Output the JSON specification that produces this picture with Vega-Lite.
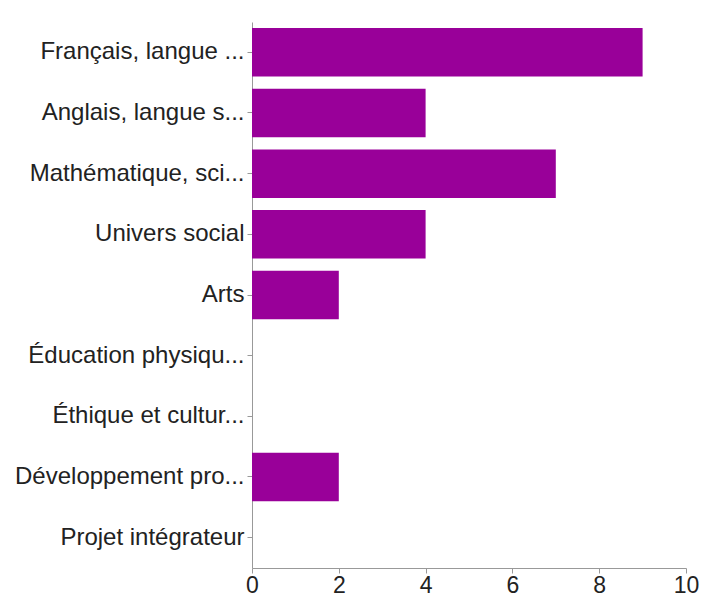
{
  "$schema": "https://vega.github.io/schema/vega-lite/v6.json",
  "autosize": {"type": "none"},
  "padding": {"left": 252, "top": 22, "right": 16, "bottom": 30},
  "width": 434,
  "height": 546,
  "background": "white",
  "data": {
    "values": [
      {"matiere": "Français, langue ...", "n": 9},
      {"matiere": "Anglais, langue s...", "n": 4},
      {"matiere": "Mathématique, sci...", "n": 7},
      {"matiere": "Univers social", "n": 4},
      {"matiere": "Arts", "n": 2},
      {"matiere": "Éducation physiqu...", "n": 0},
      {"matiere": "Éthique et cultur...", "n": 0},
      {"matiere": "Développement pro...", "n": 2},
      {"matiere": "Projet intégrateur", "n": 0}
    ]
  },
  "mark": {"type": "bar", "color": "#990099"},
  "encoding": {
    "y": {
      "field": "matiere",
      "type": "nominal",
      "sort": null,
      "scale": {"paddingInner": 0.2, "paddingOuter": 0.1},
      "axis": {
        "title": null,
        "labelFont": "Liberation Sans",
        "labelFontSize": 24,
        "labelColor": "#222222",
        "labelLimit": 300,
        "labelPadding": 3,
        "tickSize": 5,
        "tickColor": "#999999",
        "domainColor": "#999999",
        "grid": false
      }
    },
    "x": {
      "field": "n",
      "type": "quantitative",
      "scale": {"domain": [0, 10], "nice": false},
      "axis": {
        "title": null,
        "values": [0, 2, 4, 6, 8, 10],
        "labelFont": "Liberation Sans",
        "labelFontSize": 23,
        "labelColor": "#222222",
        "labelPadding": 1,
        "labelFlush": false,
        "tickSize": 5,
        "tickColor": "#999999",
        "domainColor": "#999999",
        "grid": false
      }
    }
  },
  "config": {"view": {"stroke": null}}
}
